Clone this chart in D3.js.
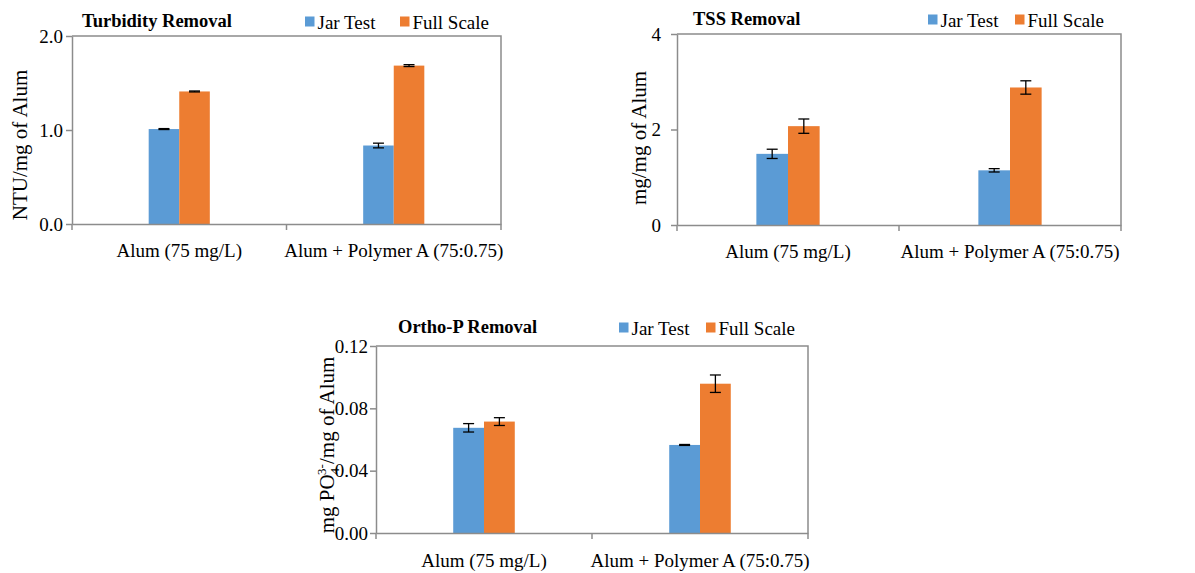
<!DOCTYPE html>
<html>
<head>
<meta charset="utf-8">
<script src="https://cdn.jsdelivr.net/npm/d3@7"></script>
</head>
<body style="margin:0;background:#fff">
<svg id="chart" width="1195" height="573"></svg>
<script>
const categories = [ 'Alum (75 mg/L)', 'Alum + Polymer A (75:0.75)' ];
const seriesNames = [ 'Jar Test', 'Full Scale' ];
const seriesColors = [ '#5b9bd5', '#ed7d31' ];

const turbJar = [ 1.01, 0.835 ];
const turbJarErr = [ 0.005, 0.025 ];
const turbFull = [ 1.41, 1.685 ];
const turbFullErr = [ 0.005, 0.01 ];
const turbTicks = [ 0, 1, 2 ];

const tssJar = [ 1.49, 1.145 ];
const tssJarErr = [ 0.097, 0.035 ];
const tssFull = [ 2.07, 2.88 ];
const tssFullErr = [ 0.15, 0.14 ];
const tssTicks = [ 0, 2, 4 ];

const orthoJar = [ 0.0675, 0.0565 ];
const orthoJarErr = [ 0.0027, 0.0003 ];
const orthoFull = [ 0.0715, 0.0958 ];
const orthoFullErr = [ 0.0025, 0.0056 ];
const orthoTicks = [ 0, 0.04, 0.08, 0.12 ];

const FONT = 'Liberation Serif';
const AXIS = '#8c8c8c';

const svg = d3.select('#chart').style('font-family', FONT);

function drawPanel(p) {
  const g = svg.append('g');
  const x = d3.scaleBand().domain(categories).range([ p.left, p.right ]);
  const y = d3.scaleLinear().domain([ 0, d3.max(p.ticks) ]).range([ p.bottom, p.top ]);
  const groupW = x.bandwidth() * 0.285;
  const xs = d3.scaleBand().domain(seriesNames).range([ 0, groupW ]);
  const barX = d => x(d.cat) + (x.bandwidth() - groupW) / 2 + xs(seriesNames[d.s]);

  // plot area border (top + right)
  g.append('path').
    attr('d', `M${p.left},${p.top}H${p.right}V${p.bottom}`).
    attr('fill', 'none').attr('stroke', AXIS).attr('stroke-width', 1.5);

  const rows = [];
  categories.forEach((c, i) => {
    p.values.forEach((vals, s) => {
      rows.push({ cat: c, s: s, v: vals[i], e: p.errors[s][i] });
    });
  });

  g.selectAll('rect.bar').data(rows).enter().append('rect').
    attr('class', 'bar').
    attr('x', barX).
    attr('y', d => y(d.v)).
    attr('width', xs.bandwidth()).
    attr('height', d => p.bottom - y(d.v)).
    attr('fill', d => seriesColors[d.s]);

  const err = g.selectAll('g.err').data(rows).enter().append('g').
    attr('class', 'err').
    attr('transform', d => `translate(${barX(d) + xs.bandwidth() / 2},0)`).
    attr('stroke', '#000').attr('stroke-width', 1.3);
  err.append('line').attr('x1', 0).attr('x2', 0).
    attr('y1', d => y(d.v + d.e)).attr('y2', d => y(d.v - d.e));
  err.append('line').attr('x1', -5.5).attr('x2', 5.5).
    attr('y1', d => y(d.v + d.e)).attr('y2', d => y(d.v + d.e));
  err.append('line').attr('x1', -5.5).attr('x2', 5.5).
    attr('y1', d => y(d.v - d.e)).attr('y2', d => y(d.v - d.e));

  // y axis
  const yAxis = d3.axisLeft(y).tickValues(p.ticks).tickFormat(d3.format(p.fmt)).
    tickSizeInner(6).tickSizeOuter(0).tickPadding(p.pad);
  const ya = g.append('g').attr('transform', `translate(${p.left},0)`).call(yAxis);
  ya.select('.domain').attr('stroke', AXIS).attr('stroke-width', 1.5);
  ya.selectAll('.tick line').attr('stroke', AXIS).attr('stroke-width', 1.5);
  ya.selectAll('.tick text').style('font-family', FONT).style('font-size', '19px').attr('fill', '#000');

  // x axis
  const xAxis = d3.axisBottom(x).tickSize(0).tickSizeOuter(0).tickPadding(p.catPad);
  const xa = g.append('g').attr('transform', `translate(0,${p.bottom})`).call(xAxis);
  xa.select('.domain').attr('stroke', AXIS).attr('stroke-width', 1.5);
  xa.selectAll('.tick text').style('font-family', FONT).style('font-size', '19px').attr('fill', '#000');
  const bounds = [ p.left, p.left + x.bandwidth(), p.right ];
  g.selectAll('line.xt').data(bounds).enter().append('line').
    attr('x1', d => d).attr('x2', d => d).
    attr('y1', p.bottom).attr('y2', p.bottom + 6).
    attr('stroke', AXIS).attr('stroke-width', 1.5);

  // title
  g.append('text').attr('x', p.titleX).attr('y', p.titleY).
    style('font-family', FONT).style('font-size', '18.5px').style('font-weight', 'bold').
    text(p.title);

  // legend
  seriesNames.forEach((name, i) => {
    g.append('rect').attr('x', p.legend[i]).attr('y', p.titleY - 10.5).
      attr('width', 9.5).attr('height', 10).attr('fill', seriesColors[i]);
    g.append('text').attr('x', p.legend[i] + 12.5).attr('y', p.titleY + 1.5).
      style('font-family', FONT).style('font-size', '19px').text(name);
  });

  // y label
  const yl = g.append('text').
    attr('transform', `translate(${p.ylabX},${p.ylabY}) rotate(-90)`).
    attr('text-anchor', 'middle').
    style('font-family', FONT).style('font-size', '21px');
  p.ylabel.forEach(part => {
    const t = yl.append('tspan').text(part.t);
    if (part.small) t.style('font-size', '13px');
    if (part.dy) t.attr('dy', part.dy);
    if (part.dx) t.attr('dx', part.dx);
  });
}

drawPanel({
  left: 72, right: 501, top: 36, bottom: 224,
  ticks: turbTicks, fmt: '.1f', pad: 3, catPad: 20,
  values: [ turbJar, turbFull ], errors: [ turbJarErr, turbFullErr ],
  title: 'Turbidity Removal', titleX: 82, titleY: 27,
  legend: [ 305, 400 ],
  ylabel: [ { t: 'NTU/mg of Alum' } ], ylabX: 27, ylabY: 145
});

drawPanel({
  left: 677, right: 1121, top: 34, bottom: 225,
  ticks: tssTicks, fmt: 'd', pad: 10, catPad: 20,
  values: [ tssJar, tssFull ], errors: [ tssJarErr, tssFullErr ],
  title: 'TSS Removal', titleX: 693, titleY: 25,
  legend: [ 928, 1015 ],
  ylabel: [ { t: 'mg/mg of Alum' } ], ylabX: 646, ylabY: 138
});

drawPanel({
  left: 376, right: 808, top: 346, bottom: 533,
  ticks: orthoTicks, fmt: '.2f', pad: 2, catPad: 21,
  values: [ orthoJar, orthoFull ], errors: [ orthoJarErr, orthoFullErr ],
  title: 'Ortho-P Removal', titleX: 398, titleY: 333,
  legend: [ 619, 706 ],
  ylabel: [
    { t: 'mg PO' },
    { t: '4', small: true, dy: 5 },
    { t: '3-', small: true, dy: -13, dx: -7 },
    { t: '/mg of Alum', dy: 8 }
  ],
  ylabX: 334, ylabY: 445
});
</script>
</body>
</html>
